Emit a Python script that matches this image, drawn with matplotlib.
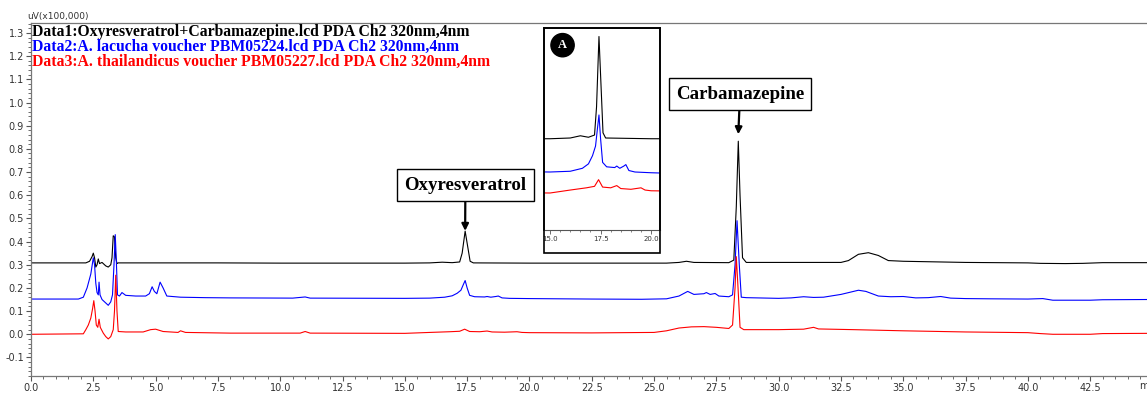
import matplotlib
matplotlib.use("Agg")
import matplotlib.pyplot as plt
from matplotlib.patches import Rectangle
from matplotlib.ticker import MultipleLocator, FormatStrFormatter

# chromatogram traces: retention time (min), signal (uV x 100,000)
t_data1 = [0.0, 2.2, 2.35, 2.45, 2.5, 2.55, 2.6, 2.65, 2.7, 2.75, 2.85, 3.0, 3.1, 3.2,
           3.25, 3.3, 3.35, 3.4, 3.45, 3.5, 7.5, 10.0, 15.0, 16.0, 16.5, 16.9, 17.2,
           17.3, 17.42, 17.52, 17.62, 17.75, 20.0, 25.5, 26.0, 26.3, 26.6, 28.0, 28.2,
           28.3, 28.38, 28.45, 28.55, 28.7, 32.5, 32.8, 33.2, 33.6, 34.0, 34.4, 35.0,
           36.0, 37.5, 40.0, 40.5, 41.5, 42.2, 43.0, 44.8]
y_data1 = [0.308, 0.308, 0.315, 0.335, 0.35, 0.33, 0.29, 0.30, 0.325, 0.305, 0.31, 0.295,
           0.29, 0.30, 0.33, 0.425, 0.42, 0.33, 0.305, 0.308, 0.308, 0.307, 0.307, 0.308,
           0.311, 0.309, 0.312, 0.35, 0.445, 0.38, 0.315, 0.308, 0.307, 0.307, 0.31,
           0.315, 0.31, 0.309, 0.32, 0.55, 0.833, 0.60, 0.33, 0.31, 0.31, 0.318, 0.345,
           0.352, 0.34, 0.318, 0.315, 0.313, 0.31, 0.308, 0.306, 0.305, 0.306, 0.309,
           0.309]

t_data2 = [0.0, 1.9, 2.1, 2.25, 2.4, 2.5, 2.55, 2.6, 2.65, 2.7, 2.73, 2.77, 2.85, 3.0,
           3.1, 3.2, 3.27, 3.33, 3.38, 3.42, 3.47, 3.55, 3.65, 3.8, 4.2, 4.6, 4.75, 4.86,
           4.95, 5.05, 5.18, 5.3, 5.45, 6.0, 7.0, 8.0, 10.5, 11.0, 11.2, 15.0, 16.0,
           16.6, 16.9, 17.1, 17.25, 17.35, 17.42, 17.5, 17.6, 17.8, 18.2, 18.3, 18.45,
           18.65, 18.75, 18.9, 19.2, 20.0, 22.5, 24.5, 25.5, 26.0, 26.35, 26.6, 27.0,
           27.1, 27.25, 27.45, 27.6, 28.0, 28.15, 28.25, 28.33, 28.42, 28.5, 28.7, 30.0,
           30.5, 31.0, 31.4, 31.8, 32.5, 33.2, 33.5, 34.0, 34.5, 35.0, 35.5, 36.0, 36.5,
           36.9, 37.5, 38.5, 40.0, 40.6, 41.0, 42.5, 43.0, 44.8]
y_data2 = [0.152, 0.152, 0.16, 0.20, 0.26, 0.33, 0.30, 0.22, 0.18, 0.17, 0.225, 0.17,
           0.15, 0.135, 0.125, 0.14, 0.17, 0.30, 0.43, 0.33, 0.17, 0.165, 0.18, 0.168,
           0.165, 0.165, 0.175, 0.205, 0.185, 0.175, 0.225, 0.20, 0.165, 0.16, 0.158,
           0.157, 0.156, 0.161, 0.156, 0.155, 0.156, 0.16, 0.166, 0.177, 0.19, 0.215,
           0.232, 0.20, 0.168, 0.162, 0.161, 0.163, 0.16, 0.163, 0.165, 0.157, 0.155,
           0.154, 0.152, 0.151, 0.153, 0.165, 0.185, 0.172, 0.175, 0.18, 0.172, 0.176,
           0.165, 0.162, 0.17, 0.30, 0.49, 0.30, 0.16, 0.158, 0.155, 0.157, 0.162, 0.159,
           0.16, 0.172, 0.19, 0.185, 0.165, 0.162, 0.163, 0.157, 0.158, 0.163, 0.156,
           0.154, 0.153, 0.152, 0.154, 0.147, 0.147, 0.149, 0.15]

t_data3 = [0.0, 2.1, 2.2, 2.3, 2.4, 2.47, 2.52, 2.57, 2.62, 2.68, 2.73, 2.78, 2.9, 3.0,
           3.1, 3.2, 3.3, 3.35, 3.4, 3.45, 3.5, 3.8, 4.5, 4.8, 5.0, 5.3, 5.9, 6.0, 6.2,
           8.0, 10.8, 11.0, 11.2, 15.0, 16.0, 16.8, 17.2, 17.4, 17.6, 18.0, 18.3, 18.5,
           19.0, 19.5, 19.7, 20.0, 22.5, 25.0, 25.5, 26.0, 26.5, 27.0, 27.5, 28.0, 28.15,
           28.25, 28.3, 28.37, 28.45, 28.6, 30.0, 31.0, 31.4, 31.6, 33.0, 35.0, 37.5,
           40.0, 40.5, 41.0, 42.5, 43.0, 44.8]
y_data3 = [0.0, 0.002, 0.02, 0.04, 0.07, 0.11, 0.145, 0.10, 0.04, 0.03, 0.065, 0.03,
           0.005, -0.01, -0.02, -0.01, 0.02, 0.10, 0.255, 0.10, 0.012, 0.01, 0.01, 0.02,
           0.022, 0.012, 0.008, 0.015, 0.008, 0.005, 0.005, 0.012, 0.005, 0.004, 0.008,
           0.011, 0.013, 0.022, 0.012, 0.011, 0.014, 0.01, 0.009, 0.011, 0.008, 0.007,
           0.006, 0.008, 0.015, 0.027, 0.032, 0.033, 0.03, 0.025, 0.04, 0.20, 0.335,
           0.20, 0.03, 0.02, 0.02, 0.022, 0.03, 0.023, 0.02, 0.015, 0.01, 0.007, 0.003,
           0.0, 0.0, 0.003, 0.004]

legend_lines = [
    "Data1:Oxyresveratrol+Carbamazepine.lcd PDA Ch2 320nm,4nm",
    "Data2:A. lacucha voucher PBM05224.lcd PDA Ch2 320nm,4nm",
    "Data3:A. thailandicus voucher PBM05227.lcd PDA Ch2 320nm,4nm",
]
peak_names = ["Oxyresveratrol", "Carbamazepine"]
peak_times = [17.42, 28.38]
peak_tops = [0.446, 0.863]

colors = ["black", "#0000ff", "#ff0000"]
serif = ["Liberation Serif", "DejaVu Serif"]

W, H = 1147, 394
fig = plt.figure(figsize=(W / 100, H / 100), dpi=100)

def fbox(x0, y0, x1, y1):
    # pixel box (top-left origin) -> figure fraction rect
    return [x0 / W, 1 - y1 / H, (x1 - x0) / W, (y1 - y0) / H]

ax = fig.add_axes(fbox(31, 23, 1150, 376))
for t, y, c in zip([t_data1, t_data2, t_data3], [y_data1, y_data2, y_data3], colors):
    ax.plot(t, y, color=c, lw=0.8)

ax.set_xlim(0, 44.9)
ax.set_ylim(-0.18, 1.343)
ax.xaxis.set_major_locator(MultipleLocator(2.5))
ax.xaxis.set_minor_locator(MultipleLocator(0.5))
ax.yaxis.set_major_locator(MultipleLocator(0.1))
ax.yaxis.set_minor_locator(MultipleLocator(0.02))
ax.xaxis.set_major_formatter(FormatStrFormatter("%.1f"))
ax.yaxis.set_major_formatter(FormatStrFormatter("%.1f"))
ax.tick_params(which="major", length=3.5, width=0.8, color="#555555",
               labelsize=7, labelcolor="#333333", pad=1.5)
ax.tick_params(which="minor", length=2, width=0.6, color="#555555")
for s in ["left", "bottom", "top"]:
    ax.spines[s].set_color("#777777")
    ax.spines[s].set_linewidth(0.9)
ax.spines["right"].set_visible(False)

fig.text(27 / W, 1 - 16 / H, "uV(x100,000)", fontsize=6.5, color="#333333",
         va="center", ha="left")
# unit label is cut at the right edge in the original, only "m" shows
fig.text(1139 / W, 1 - 386 / H, "m", fontsize=7, color="#333333",
         va="center", ha="left")

for i, (txt, c) in enumerate(zip(legend_lines, colors)):
    fig.text(32 / W, 1 - (32 + 15 * i) / H, txt, color=c, fontsize=11.3,
             fontweight="bold", family=serif, va="center", ha="left")

label_pos = [(17.43, 0.644), (28.45, 1.036)]
for name, tx, ty, (lx, ly) in zip(peak_names, peak_times, peak_tops, label_pos):
    ax.annotate(name, xy=(tx, ty), xytext=(lx, ly), ha="center", va="center",
                fontsize=13.6, fontweight="bold", family=serif,
                bbox=dict(boxstyle="square,pad=0.38", fc="white", ec="black", lw=1),
                arrowprops=dict(arrowstyle="-|>", color="black", lw=1.6,
                                mutation_scale=10, shrinkA=0, shrinkB=0))

# inset: zoom on the oxyresveratrol region
k = 0.00135
ins_shift = [-0.308, -0.155 - 34 * k, -0.004 - 55 * k]
ins = fig.add_axes(fbox(544, 28, 660, 230))
for t, y, c, sh in zip([t_data1, t_data2, t_data3], [y_data1, y_data2, y_data3],
                       colors, ins_shift):
    ins.plot(t, [v + sh for v in y], color=c, lw=0.8)
ins.set_xlim(14.7, 20.44)
ins.set_ylim(-(230 - 138) * k, (138 - 28) * k)
ins.set_yticks([])
ins.xaxis.set_major_locator(MultipleLocator(2.5))
ins.xaxis.set_minor_locator(MultipleLocator(0.5))
ins.xaxis.set_major_formatter(FormatStrFormatter("%.1f"))
ins.tick_params(which="major", length=3, width=0.6, color="#555555",
                labelsize=5, labelcolor="#333333", pad=1.5)
ins.tick_params(which="minor", length=1.5, width=0.5, color="#555555")
for s in ["left", "right", "top"]:
    ins.spines[s].set_color("black")
    ins.spines[s].set_linewidth(1.2)
ins.spines["bottom"].set_color("#555555")
ins.spines["bottom"].set_linewidth(0.8)
ins.text(0.16, 0.915, "A", transform=ins.transAxes, color="white", fontsize=9,
         fontweight="bold", family=serif, ha="center", va="center",
         bbox=dict(boxstyle="circle,pad=0.45", fc="black", ec="black"))

fig.patches.append(Rectangle((544 / W, 1 - 253 / H), 116 / W, 225 / H,
                             transform=fig.transFigure, fill=False,
                             ec="black", lw=1.2, zorder=5))

fig.savefig("out.png", dpi=100)
